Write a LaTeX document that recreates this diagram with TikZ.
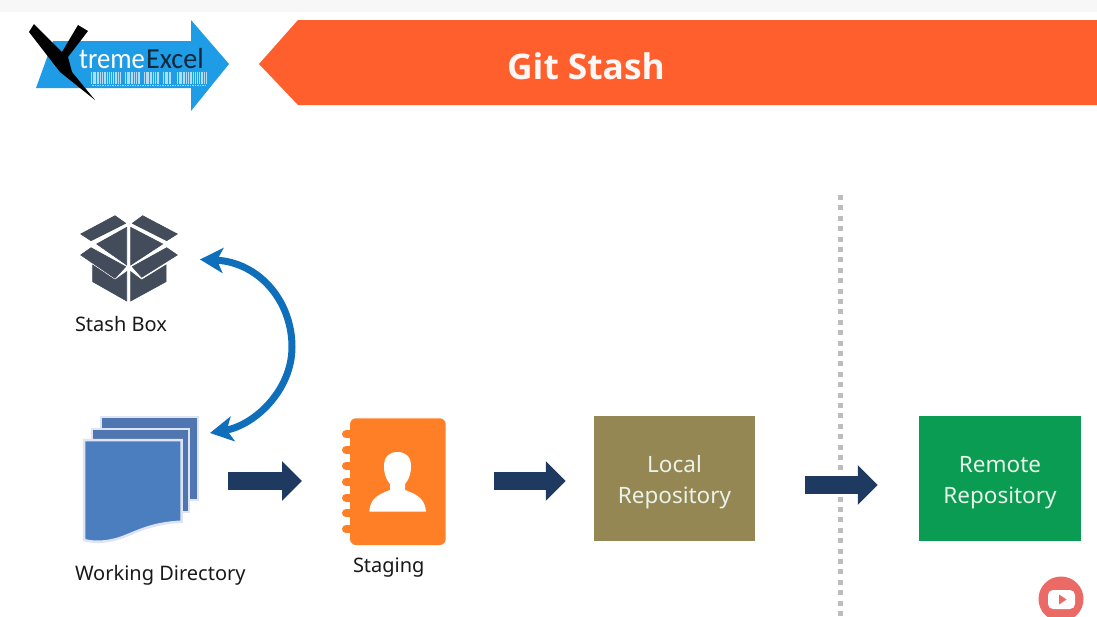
\documentclass[tikz,border=0pt]{standalone}
\usepackage{graphicx}
\usepackage{fontspec}
\setmainfont{Noto Sans}
\newfontfamily\logofont{Carlito}
\newfontfamily\titlefont{Open Sans}
\usetikzlibrary{arrows.meta,calc}
\definecolor{topstrip}{HTML}{F7F7F7}
\definecolor{banner}{HTML}{FF5F2D}
\definecolor{logoblue}{HTML}{1F9CE6}
\definecolor{logodark}{HTML}{10283C}
\definecolor{boxgrey}{HTML}{434C5A}
\definecolor{curveblue}{HTML}{0F6FBA}
\definecolor{pageblue}{HTML}{4A7EBF}
\definecolor{pageback}{HTML}{4F76B0}
\definecolor{pagehalo}{HTML}{DFE4F4}
\definecolor{bookorange}{HTML}{FF7F27}
\definecolor{navy}{HTML}{1F3A60}
\definecolor{localbrown}{HTML}{948753}
\definecolor{remotegreen}{HTML}{0A9C52}
\definecolor{dotgrey}{HTML}{BDBDBD}
\definecolor{ytred}{HTML}{EC6A65}
\definecolor{repotext}{HTML}{EAF3EA}
\tikzset{
  iconbox/.style={inner sep=0pt,outer sep=0pt,minimum width=#1},
  caption/.style={inner sep=0pt,outer sep=0pt,anchor=base west,font=\fontsize{20}{24}\selectfont,text=black!90},
  repo/.style={inner sep=0pt,outer sep=0pt,minimum width=161.5pt,minimum height=125pt,fill=#1},
  repotitle/.style={inner sep=0pt,align=center,text=repotext,font=\fontsize{22.5}{31}\selectfont},
  blockarrow/.style={draw=navy,line width=18pt,-{Triangle[length=20pt,width=38.5pt,fill=navy]}},
  stashface/.style={fill=boxgrey,draw=boxgrey,line width=.6pt},
  curvearrow/.style={draw=curveblue,line width=7pt,{Stealth[length=23pt,width=25pt,inset=6pt]}-{Stealth[length=23pt,width=25pt,inset=6pt]}},
  barcode/.style={draw=white!65!logoblue,line width=12pt,dash pattern=on 1pt off .9pt on .5pt off 1pt on 1.4pt off .8pt on .6pt off 1pt},
}
\begin{document}
\begin{tikzpicture}[x=1pt,y=-1pt]
\clip (0,0) rectangle (1097,616);
\fill[white] (0,0) rectangle (1097,616);
\fill[topstrip] (0,0) rectangle (1097,12);

% banner
\fill[banner] (259,64) -- (298,20) -- (1097,20) -- (1097,105) -- (298,105) -- cycle;
\node[inner sep=0pt,text=white!95!banner,font=\titlefont\fontsize{35.3}{40}\selectfont\bfseries] (title) at (586,66) {Git Stash};

% logo
\fill[logoblue] (53,41) -- (191,41) -- (191,20) -- (229,64) -- (191,111) -- (191,88) -- (36,88) -- cycle;
\draw[barcode] (91,78) -- (121,78);
\draw[barcode] (125,78) -- (140,78);
\draw[barcode] (144,78) -- (159,78);
\draw[barcode] (163,78) -- (172,78);
\draw[barcode] (177,78) -- (207,78);
\draw[white!60!logoblue,line width=1pt,dash pattern=on 1.5pt off 1pt] (92,85.5) -- (205,85.5);
\fill[black] (29,32) -- (34,24) -- (62,52) -- (78,25) -- (88,31) -- (68,57) -- (72,72) -- (95,100) -- (60,72) -- cycle;
\node[inner sep=0pt,anchor=base west,text=white,font=\logofont\fontsize{29}{30}\selectfont] (treme) at (79,68) {\scalebox{.92}[1]{treme}};
\node[inner sep=0pt,anchor=base west,text=logodark,font=\logofont\fontsize{29}{30}\selectfont] (excel) at (146,68) {\scalebox{.97}[1]{Excel}};

% stash box icon
\node[iconbox=98pt,minimum height=87pt] (stash) at (129,258.5) {};
\filldraw[stashface] (80.7,234) -- (115,215.7) -- (125.7,223.3) -- (91,240.7) -- cycle;
\filldraw[stashface] (132.3,223.3) -- (142.7,215.7) -- (177.3,234) -- (166.7,240.7) -- cycle;
\filldraw[stashface] (126.7,227.3) -- (126.7,265) -- (96.7,244) -- cycle;
\filldraw[stashface] (130.7,227.3) -- (130.7,265) -- (162.7,244) -- cycle;
\filldraw[stashface] (80.7,255) -- (91,247.7) -- (125.7,266.7) -- (115,278.3) -- cycle;
\filldraw[stashface] (132.3,266.7) -- (166.7,247.7) -- (177.3,255) -- (141.7,277.3) -- cycle;
\filldraw[stashface] (92.7,265) -- (115,280) -- (126.7,271.7) -- (126.7,301) -- (92.7,281.7) -- cycle;
\filldraw[stashface] (130.7,271.7) -- (141.7,280) -- (166,265) -- (166,281.7) -- (130.7,301) -- cycle;
\node[caption] (stashlabel) at (75,331) {Stash Box};

% working directory icon
\node[iconbox=114pt,minimum height=130pt] (wd) at (141,481) {};
\filldraw[fill=pageback,draw=pagehalo,line width=2pt] (100.7,416.7) rectangle (197.7,500);
\filldraw[fill=pageback,draw=pagehalo,line width=2pt] (92.3,429.3) rectangle (189,511.7);
\filldraw[fill=pageblue,draw=pagehalo,line width=2.5pt] (84,440) -- (181.7,440) -- (181.7,521.7) .. controls (150,523) and (135,533) .. (120,538) .. controls (108,542) and (95,543) .. (84,540) -- cycle;
\node[caption] (wdlabel) at (75,580) {Working Directory};

% staging icon
\node[iconbox=104pt,minimum height=127pt] (stage) at (394,481) {};
\foreach \ringy in {434.3,450,465.7,481.7,497.7,513.3,529.3}
  \draw[bookorange,line width=8pt,line cap=round] (346,\ringy) -- (352,\ringy);
\fill[bookorange,rounded corners=6pt] (350,418.3) -- (445.7,418.3) -- (445.7,545) -- (350,545) -- cycle;
\fill[white] (369.3,511.7) .. controls (370,500) and (376,495) .. (390,490) -- (390,484) .. controls (385,478) and (384,472) .. (384,466) .. controls (384,456) and (390,452) .. (397.5,452) .. controls (405,452) and (411,456) .. (411,466) .. controls (411,472) and (410,478) .. (405,484) -- (405,490) .. controls (419,495) and (425,500) .. (426,511.7) -- cycle;
\node[caption] (stagelabel) at (353,572) {Staging};

% divider
\draw[dotgrey,line width=5pt,dash pattern=on 5pt off 5.4pt] (840.5,195) -- (840.5,616);

% repositories
\node[repo=localbrown] (local) at (674.5,478.5) {};
\node[repotitle] (localtext) at ($(local.center)+(0,4)$) {Local\\Repository};
\node[repo=remotegreen] (remote) at (1000,478.5) {};
\node[repotitle] (remotetext) at ($(remote.center)+(0,4)$) {Remote\\Repository};

% block arrows
\coordinate (lrrow) at (840,485);
\draw[blockarrow,shorten <=30pt,shorten >=40pt] (wd.east) -- (stage.west);
\draw[blockarrow,shorten <=47.5pt,shorten >=28pt] (stage.east) -- (stage.east -| local.west);
\draw[blockarrow,shorten <=49.5pt,shorten >=41.5pt] (lrrow -| local.east) -- (lrrow -| remote.west);

% stash <-> working directory
\coordinate (wdtip) at (210,433);
\draw[curvearrow,shorten <=22pt] (stash.east) .. controls (258,262) and (292,300) .. (292,347) .. controls (292,390) and (255,425) .. (wdtip);

% video badge
\fill[ytred] (1061,599) circle (22.5);
\fill[white,rounded corners=5pt] (1048,590) rectangle (1075,609);
\fill[ytred] (1059,594.5) -- (1066.5,599.5) -- (1059,604.5) -- cycle;
\end{tikzpicture}
\end{document}
